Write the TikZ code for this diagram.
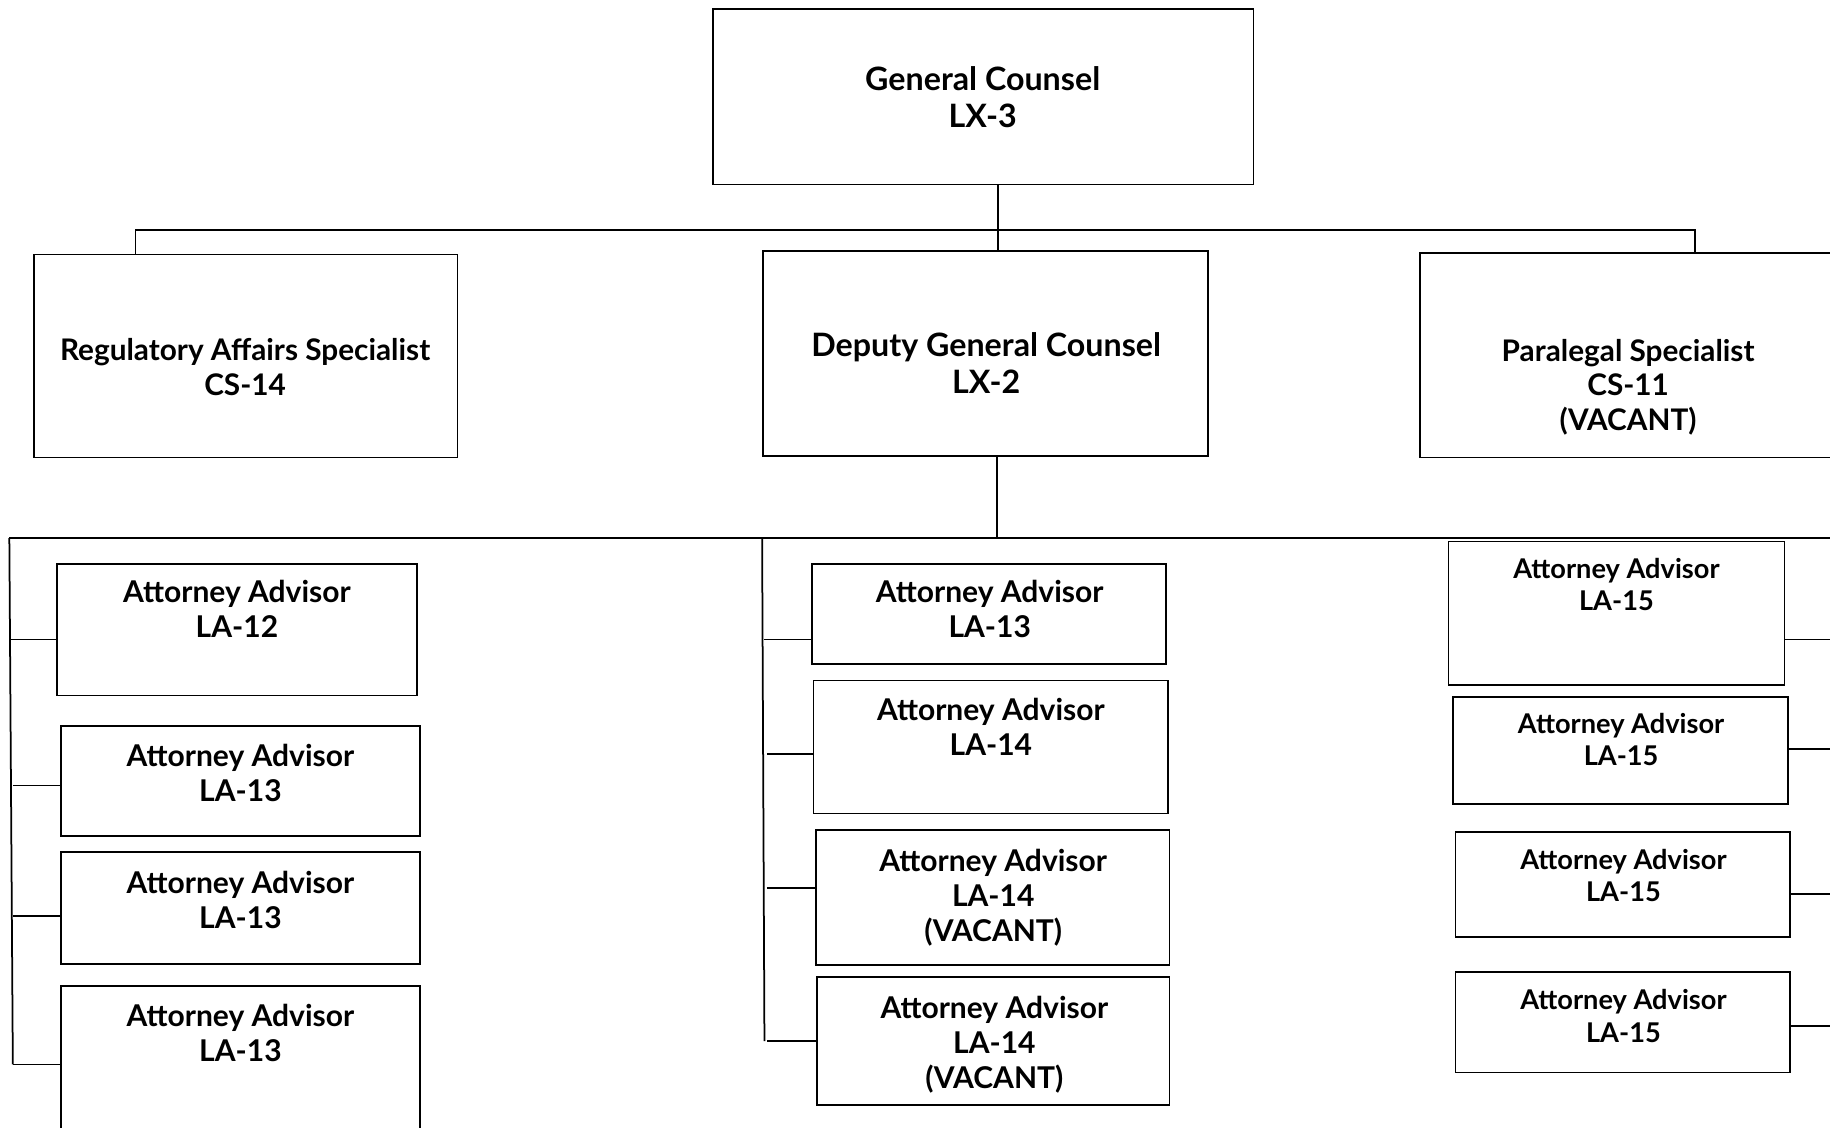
\documentclass[tikz,border=0pt]{standalone}
\usepackage{fontspec}
\setmainfont{Lato}
\usetikzlibrary{fit}
\begin{document}
\begin{tikzpicture}[x=1pt,y=-1pt,
  box/.style={draw, line width=1.5pt, inner sep=0pt},
  conn/.style={draw, line width=1.5pt},
  lblbig/.style={align=center, inner sep=0pt, font=\bfseries\fontsize{27.6}{32}\selectfont},
  lblmid/.style={align=center, inner sep=0pt, font=\bfseries\fontsize{25.5}{29.5}\selectfont},
  lblatt/.style={align=center, inner sep=0pt, font=\bfseries\fontsize{25.7}{30}\selectfont},
  lblsml/.style={align=center, inner sep=0pt, font=\bfseries\fontsize{23.3}{27.5}\selectfont}]
\useasboundingbox (0,0) rectangle (1568,966);
\clip (0,0) rectangle (1568,966);
\fill[white] (0,0) rectangle (1568,966);

% boxes
\node[box, fit={(611,8) (1074,158)}] (gc) {};
\node[box, fit={(29,218) (392,392)}] (reg) {};
\node[box, fit={(654,215) (1035,391)}] (dgc) {};
\node[box, fit={(1217,217) (1600,392)}] (par) {};
\node[box, fit={(49,483) (357,596)}] (l1) {};
\node[box, fit={(52,622) (360,716)}] (l2) {};
\node[box, fit={(52,730) (360,826)}] (l3) {};
\node[box, fit={(52,845) (360,1000)}] (l4) {};
\node[box, fit={(696,483) (999,569)}] (m1) {};
\node[box, fit={(697,583) (1001,697)}] (m2) {};
\node[box, fit={(699,711) (1002,827)}] (m3) {};
\node[box, fit={(700,837) (1002,947)}] (m4) {};
\node[box, fit={(1241,464) (1529,587)}] (r1) {};
\node[box, fit={(1245,597) (1532,689)}] (r2) {};
\node[box, fit={(1247,713) (1534,803)}] (r3) {};
\node[box, fit={(1247,833) (1534,919)}] (r4) {};

% texts
\node[lblbig] (tgc) at (842,83) {General Counsel\\LX-3};
\node[lblmid] (treg) at (210,314.5) {Regulatory Affairs Specialist\\CS-14};
\node[lblbig] (tdgc) at (845,311) {Deputy General Counsel\\LX-2};
\node[lblmid] (tpar) at (1395,331.5) {Paralegal Specialist\\CS-11\\(VACANT)};
\node[lblatt] (tl1) at (203,522) {Attorney Advisor\\LA-12};
\node[lblatt] (tl2) at (206,662) {Attorney Advisor\\LA-13};
\node[lblatt] (tl3) at (206,771) {Attorney Advisor\\LA-13};
\node[lblatt] (tl4) at (206,885) {Attorney Advisor\\LA-13};
\node[lblatt] (tm1) at (848,522) {Attorney Advisor\\LA-13};
\node[lblatt] (tm2) at (849,623) {Attorney Advisor\\LA-14};
\node[lblatt] (tm3) at (851,769.5) {Attorney Advisor\\LA-14\\(VACANT)};
\node[lblatt] (tm4) at (852,895) {Attorney Advisor\\LA-14\\(VACANT)};
\node[lblsml] (tr1) at (1385,501) {Attorney Advisor\\LA-15};
\node[lblsml] (tr2) at (1389,633.5) {Attorney Advisor\\LA-15};
\node[lblsml] (tr3) at (1391,750.5) {Attorney Advisor\\LA-15};
\node[lblsml] (tr4) at (1391,870.5) {Attorney Advisor\\LA-15};

% junction coordinates
\coordinate (j0) at (855,197);
\coordinate (jl) at (116,197);
\coordinate (jr) at (1452,197);
\coordinate (j1) at (854,461);
\coordinate (lt) at (8,461);
\coordinate (rt) at (1600,461);
\coordinate (lb) at (11,912);
\coordinate (mt) at (653,461);
\coordinate (mb) at (655,892);
\coordinate (cl1) at (9,548);
\coordinate (cl2) at (11,673);
\coordinate (cl3) at (11,785);
\coordinate (cl4) at (11,912);
\coordinate (cm1) at (655,548);
\coordinate (cm2) at (657,646);
\coordinate (cm3) at (657,761);
\coordinate (cm4) at (657,892);
\coordinate (cr1) at (1600,548);
\coordinate (cr2) at (1600,642);
\coordinate (cr3) at (1600,766);
\coordinate (cr4) at (1600,879);

% connectors
\draw[conn] (gc.south -| j0) -- (j0 |- dgc.north);
\draw[conn] (jl |- reg.north) -- (jl) -- (jr) -- (jr |- par.north);
\draw[conn] (j1 |- dgc.south) -- (j1);
\draw[conn] (lt) -- (rt);
\draw[conn] (lt) -- (lb);
\draw[conn] (mt) -- (mb);
\draw[conn] (cl1) -- (cl1 -| l1.west);
\draw[conn] (cl2) -- (cl2 -| l2.west);
\draw[conn] (cl3) -- (cl3 -| l3.west);
\draw[conn] (cl4) -- (cl4 -| l4.west);
\draw[conn] (cm1) -- (cm1 -| m1.west);
\draw[conn] (cm2) -- (cm2 -| m2.west);
\draw[conn] (cm3) -- (cm3 -| m3.west);
\draw[conn] (cm4) -- (cm4 -| m4.west);
\draw[conn] (r1.east |- cr1) -- (cr1);
\draw[conn] (r2.east |- cr2) -- (cr2);
\draw[conn] (r3.east |- cr3) -- (cr3);
\draw[conn] (r4.east |- cr4) -- (cr4);
\end{tikzpicture}
\end{document}
